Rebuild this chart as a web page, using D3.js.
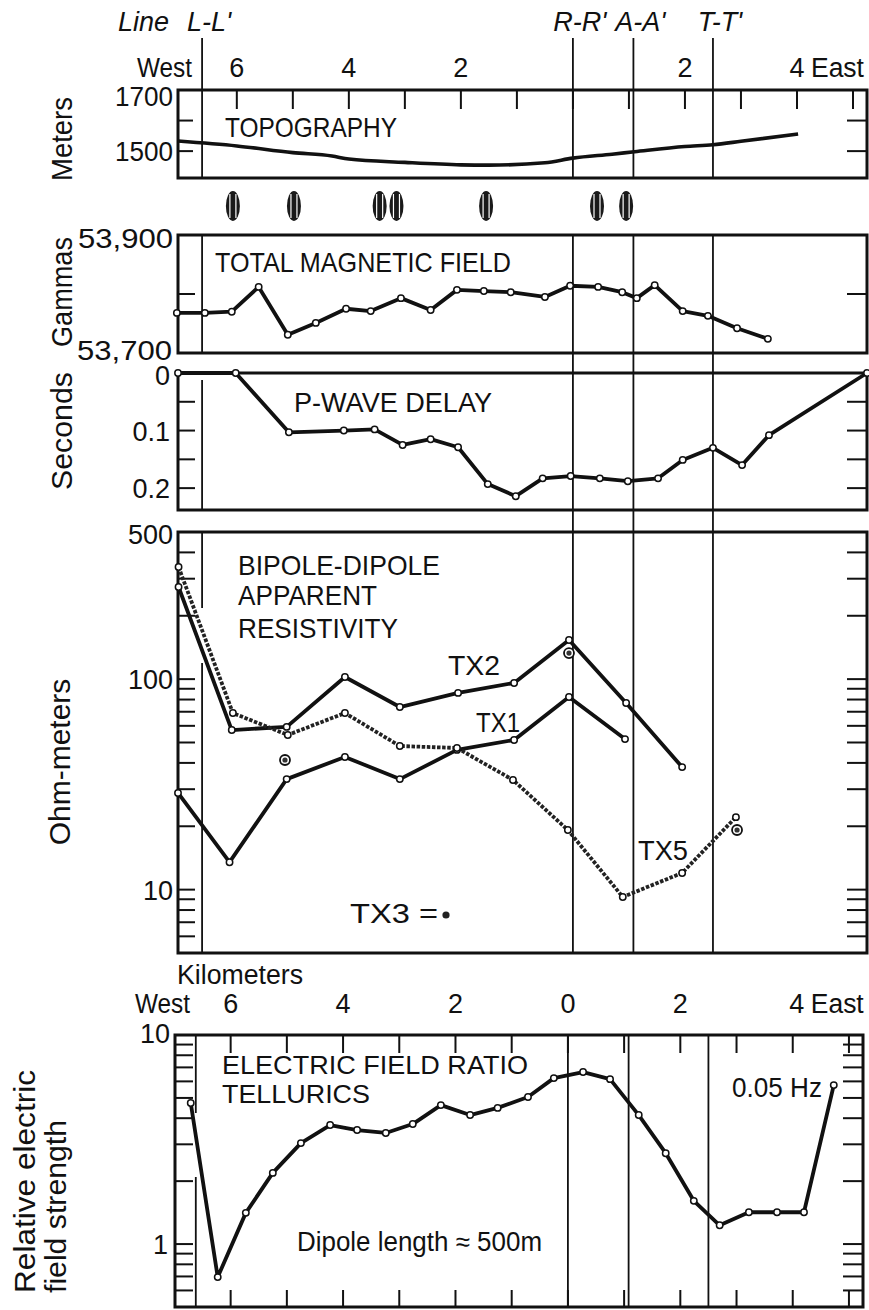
<!DOCTYPE html>
<html><head><meta charset="utf-8">
<script src="https://cdn.jsdelivr.net/npm/d3@7"></script>
<style>
body{margin:0;background:#fff;}
svg text{font-family:"Liberation Sans",Arial,sans-serif;fill:#111;}
</style></head><body>
<svg id="c" width="869" height="1310"></svg>
<script>
// ---------------- DATA ----------------
const markerNames = ["L-L'", "R-R'", "A-A'", "T-T'"];
const markerKm = [-6.62, 0, 1.08, 2.5];
const topAxisKm = [-6, -4, -2, 2, 4];
const bottomAxisKm = [-6, -4, -2, 0, 2, 4];
const kmMinorTicks = [-6, -5, -4, -3, -2, -1, 0, 1, 2, 3, 4, 5];
const stationKm = [-6.07, -4.98, -3.45, -3.15, -1.55, 0.43, 0.95];

const topoKm = [-7.05, -6, -5, -4.3, -4, -3, -2, -1.5, -0.5, 0, 0.7, 1.1, 2, 2.5, 3, 4.02];
const topoM  = [1533, 1517, 1495, 1484, 1474, 1463, 1455, 1454, 1462, 1477, 1490, 1498, 1515, 1521, 1532, 1556];
const topoTicks = [1500, 1600];
const topoLabels = [1700, 1500];

const magKm = [-7.07, -6.57, -6.09, -5.61, -5.09, -4.59, -4.05, -3.61, -3.07, -2.54, -2.07, -1.59, -1.11, -0.5, -0.05, 0.45, 0.88, 1.14, 1.46, 1.96, 2.41, 2.93, 3.48];
const magGamma = [53768, 53768, 53770, 53812, 53731, 53751, 53775, 53771, 53793, 53773, 53807, 53805, 53803, 53795, 53814, 53812, 53803, 53793, 53815, 53771, 53763, 53742, 53724];
const magTicks = [53800];
const magLabels = ["53,900", "53,700"];

const pKm  = [-7.05, -6.02, -5.07, -4.09, -3.54, -3.04, -2.54, -2.05, -1.52, -1.02, -0.54, -0.04, 0.48, 0.98, 1.52, 1.96, 2.5, 3.02, 3.5, 5.25];
const pSec = [0, 0, 0.103, 0.1, 0.098, 0.125, 0.115, 0.129, 0.193, 0.214, 0.183, 0.179, 0.183, 0.188, 0.183, 0.151, 0.13, 0.16, 0.108, 0];
const pTicks = [0.05, 0.1, 0.15, 0.2];
const pLabels = ["0", "0.1", "0.2"];
const pLabelVals = [0, 0.1, 0.2];

const tx1Km  = [-7.05, -6.13, -5.11, -4.07, -3.09, -2.07, -1.05, -0.07, 0.93];
const tx1Ohm = [28.8, 13.5, 33.5, 42.7, 33.5, 46.1, 51.4, 82.3, 51.9];
const tx2Km  = [-7.04, -6.09, -5.11, -4.07, -3.09, -2.05, -1.05, -0.07, 0.95, 1.95];
const tx2Ohm = [274, 57.3, 59.3, 102.4, 73.7, 86, 95.9, 153.5, 77, 38.2];
const tx5Km  = [-7.04, -6.07, -5.09, -4.07, -3.09, -2.07, -1.07, -0.09, 0.89, 1.95, 2.91];
const tx5Ohm = [341, 69, 54.3, 69, 48.1, 47.1, 33.2, 19.2, 9.23, 12.0, 22.1];
const tx3Km  = [-5.14, -0.07, 2.93];
const tx3Ohm = [41.3, 133, 19.2];
const resTicks = [5,6,7,8,9,10,20,30,40,50,60,70,80,90,100,200,300,400];
const resLabels = [500, 100, 10];

const telKm = [-6.71, -6.23, -5.73, -5.25, -4.75, -4.23, -3.75, -3.24, -2.76, -2.26, -1.74, -1.25, -0.71, -0.25, 0.27, 0.75, 1.26, 1.74, 2.24, 2.70, 3.22, 3.72, 4.2, 4.73];
const telRatio = [4.73, 0.695, 1.41, 2.19, 3.04, 3.71, 3.51, 3.40, 3.75, 4.62, 4.14, 4.48, 5.05, 6.22, 6.65, 6.15, 4.14, 2.72, 1.61, 1.23, 1.42, 1.42, 1.42, 5.76];
const telTicks = [0.6,0.7,0.8,0.9,1,2,3,4,5,6,7,8,9];
const telLabels = [10, 1];

// ---------------- SCALES ----------------
const svg = d3.select("#c");
const xU = d3.scaleLinear().domain([-7.05, 5.25]).range([178, 867]);
const xT = d3.scaleLinear().domain([-6.99, 5.25]).range([175, 863]);
const yTopo = d3.scaleLinear().domain([1412, 1700]).range([178, 90]);
const yMag = d3.scaleLinear().domain([53700, 53900]).range([353, 235]);
const yP = d3.scaleLinear().domain([0, 0.238]).range([373, 510]);
const yR = d3.scaleLog().domain([5, 500]).range([953, 532]);
const yE = d3.scaleLog().domain([0.5, 10]).range([1307, 1035]);

const INK = "#111";

// ---------------- HELPERS ----------------
function line(x1, y1, x2, y2, w, col) {
  svg.append("line").attr("x1", x1).attr("y1", y1).attr("x2", x2).attr("y2", y2)
    .attr("stroke", col || INK).attr("stroke-width", w || 1.8);
}
function frame(xs, ys) {
  const [x0, x1] = xs.range(), [y0, y1] = [d3.min(ys.range()), d3.max(ys.range())];
  svg.append("rect").attr("x", x0).attr("y", y0).attr("width", x1 - x0).attr("height", y1 - y0)
    .attr("fill", "none").attr("stroke", INK).attr("stroke-width", 3);
}
function yTicks(xs, ys, vals, lenL, lenR) {
  const [x0, x1] = xs.range();
  vals.forEach(v => {
    line(x0, ys(v), x0 + lenL, ys(v), 2);
    line(x1 - lenR, ys(v), x1, ys(v), 2);
  });
}
function txt(t, x, y, o) {
  o = o || {};
  const el = svg.append("text").attr("x", x).attr("y", y).text(t)
    .attr("font-size", o.size || 26).attr("text-anchor", o.anchor || "start");
  if (o.len) el.attr("textLength", o.len).attr("lengthAdjust", "spacingAndGlyphs");
  if (o.italic) el.attr("font-style", "italic");
  if (o.rotate) el.attr("transform", `rotate(-90 ${x} ${y})`);
  return el;
}
function series(xs, ys, kms, vals, o) {
  o = o || {};
  const pts = kms.map((k, i) => [k, vals[i]]);
  const gen = d3.line().x(d => xs(d[0])).y(d => ys(d[1]));
  if (o.curve) gen.curve(o.curve);
  const p = svg.append("path").datum(pts).attr("d", gen).attr("fill", "none")
    .attr("stroke", o.color || INK).attr("stroke-width", o.width || 3.8)
    .attr("stroke-linejoin", "round");
  if (o.dash) p.attr("stroke-dasharray", o.dash);
  if (o.markers !== false) {
    svg.append("g").selectAll("circle").data(pts).join("circle")
      .attr("cx", d => xs(d[0])).attr("cy", d => ys(d[1])).attr("r", 3.2)
      .attr("fill", "#fff").attr("stroke", INK).attr("stroke-width", 1.5);
  }
}

// ---------------- FRAMES ----------------
frame(xU, yTopo);
frame(xU, yMag);
frame(xU, yP);
frame(xU, yR);
frame(xT, yE);

// marker lines
markerKm.forEach((k, i) => {
  const x = xU(k);
  line(x, 38, x, 178, 1.8);
  if (i === 0) {
    line(x, 235, x, 353); line(x, 380, x, 510); line(x, 532, x, 608); line(x, 663, x, 953);
  } else {
    line(x, 235, x, 953, 1.8);
  }
  const xt = xT(k);
  if (i === 0) { line(xt, 1035, xt, 1113); line(xt, 1177, xt, 1307); }
  else line(xt, 1035, xt, 1307, 1.8);
});

// km ticks
kmMinorTicks.forEach(k => {
  line(xU(k), 90, xU(k), 109, 2);
  line(xT(k), 1035, xT(k), 1053, 2);
  line(xT(k), 1307, xT(k), 1290, 2);
});

// y ticks
yTicks(xU, yTopo, topoTicks, 15, 20);
yTicks(xU, yMag, magTicks, 17, 20);
yTicks(xU, yP, pTicks, 17, 20);
yTicks(xU, yR, resTicks, 17, 20);
yTicks(xT, yE, telTicks, 18, 20);

// stations (icons)
stationKm.forEach(k => {
  const x = xU(k);
  svg.append("ellipse").attr("cx", x).attr("cy", 206).attr("rx", 7).attr("ry", 15).attr("fill", "#1a1a1a");
  [-3, 3].forEach(dx => line(x + dx, 194, x + dx, 218, 1.2, "#fff"));
});

// ---------------- SERIES ----------------
series(xU, yTopo, topoKm, topoM, { markers: false, curve: d3.curveMonotoneX, width: 3.6 });
series(xU, yMag, magKm, magGamma);
series(xU, yP, pKm, pSec);
series(xU, yR, tx2Km, tx2Ohm);
series(xU, yR, tx1Km, tx1Ohm);
series(xU, yR, tx5Km, tx5Ohm, { dash: "3.5,1.6", color: "#222" });
svg.append("g").selectAll("g").data(tx3Km.map((k, i) => [k, tx3Ohm[i]])).join("g").each(function (d) {
  const g = d3.select(this);
  g.append("circle").attr("cx", xU(d[0])).attr("cy", yR(d[1])).attr("r", 5).attr("fill", "#fff")
    .attr("stroke", INK).attr("stroke-width", 1.8);
  g.append("circle").attr("cx", xU(d[0])).attr("cy", yR(d[1])).attr("r", 2.6).attr("fill", "#333");
});
series(xT, yE, telKm, telRatio);

// ---------------- TEXT ----------------
txt("Line", 118, 31, { italic: true, size: 27 });
markerNames.forEach((n, i) => txt(n, xU(markerKm[i]) + 7, 31, { italic: true, size: 27, anchor: "middle" }));
txt("West", 192, 77, { anchor: "end", size: 27, len: 55 });
topAxisKm.forEach(k => txt(String(Math.abs(k)), xU(k), 77, { anchor: "middle", size: 27 }));
txt("East", xU(4) + 14, 77, { size: 27, len: 53 });

txt("Kilometers", 177, 984, { len: 126, size: 27 });
txt("West", 190, 1013, { anchor: "end", size: 27, len: 55 });
bottomAxisKm.forEach(k => txt(String(Math.abs(k)), xT(k) + (k === 4 ? 4 : 0), 1013, { anchor: "middle", size: 27 }));
txt("East", xT(4) + 18, 1013, { size: 27, len: 53 });

// y labels
txt(String(topoLabels[0]), 173, 106, { anchor: "end", size: 27, len: 58 });
txt(String(topoLabels[1]), 173, yTopo(topoLabels[1]) + 10, { anchor: "end", size: 27, len: 58 });
txt(magLabels[0], 173, 248, { anchor: "end", len: 95, size: 27 });
txt(magLabels[1], 172, 360, { anchor: "end", len: 95, size: 27 });
pLabels.forEach((l, i) => txt(l, 170, yP(pLabelVals[i]) + 10 + (i === 0 ? 2 : 0), { anchor: "end", size: 27 }));
resLabels.forEach(v => txt(String(v), 173, yR(v) + 10 + (v === 500 ? 2 : 0), { anchor: "end", size: 27 }));
txt(String(telLabels[0]), 170, 1043, { anchor: "end", size: 27 });
txt(String(telLabels[1]), 168, yE(1) + 10, { anchor: "end", size: 27 });

// panel titles
txt("TOPOGRAPHY", 225, 137, { len: 172, size: 28 });
txt("TOTAL MAGNETIC FIELD", 215, 272, { len: 296, size: 28 });
txt("P-WAVE DELAY", 294, 412, { len: 198, size: 28 });
txt("BIPOLE-DIPOLE", 238, 575, { len: 202, size: 28 });
txt("APPARENT", 238, 605, { len: 139, size: 28 });
txt("RESISTIVITY", 238, 638, { len: 160, size: 28 });
txt("TX2", 448, 675, { len: 52, size: 28 });
txt("TX1", 476, 732, { len: 44, size: 28 });
txt("TX5", 638, 860, { len: 50, size: 28 });
txt("TX3 =", 350, 923, { len: 88, size: 27 });
svg.append("circle").attr("cx", 446).attr("cy", 915).attr("r", 3.6).attr("fill", "#222");
txt("ELECTRIC FIELD RATIO", 222, 1074, { len: 306, size: 26 });
txt("TELLURICS", 222, 1103, { len: 148, size: 26 });
txt("Dipole length \u2248 500m", 297, 1251, { len: 245, size: 27 });
txt("0.05 Hz", 732, 1097, { len: 90, size: 27 });

// rotated axis titles
txt("Meters", 72, 139, { rotate: true, anchor: "middle", size: 30, len: 84 });
txt("Gammas", 72, 292, { rotate: true, anchor: "middle", size: 30, len: 110 });
txt("Seconds", 72, 431, { rotate: true, anchor: "middle", size: 30, len: 118 });
txt("Ohm-meters", 70, 762, { rotate: true, anchor: "middle", size: 30 });
txt("Relative electric", 35, 1293, { rotate: true, size: 30, len: 223 });
txt("field strength", 66, 1293, { rotate: true, size: 30, len: 173 });
</script>
</body></html>
